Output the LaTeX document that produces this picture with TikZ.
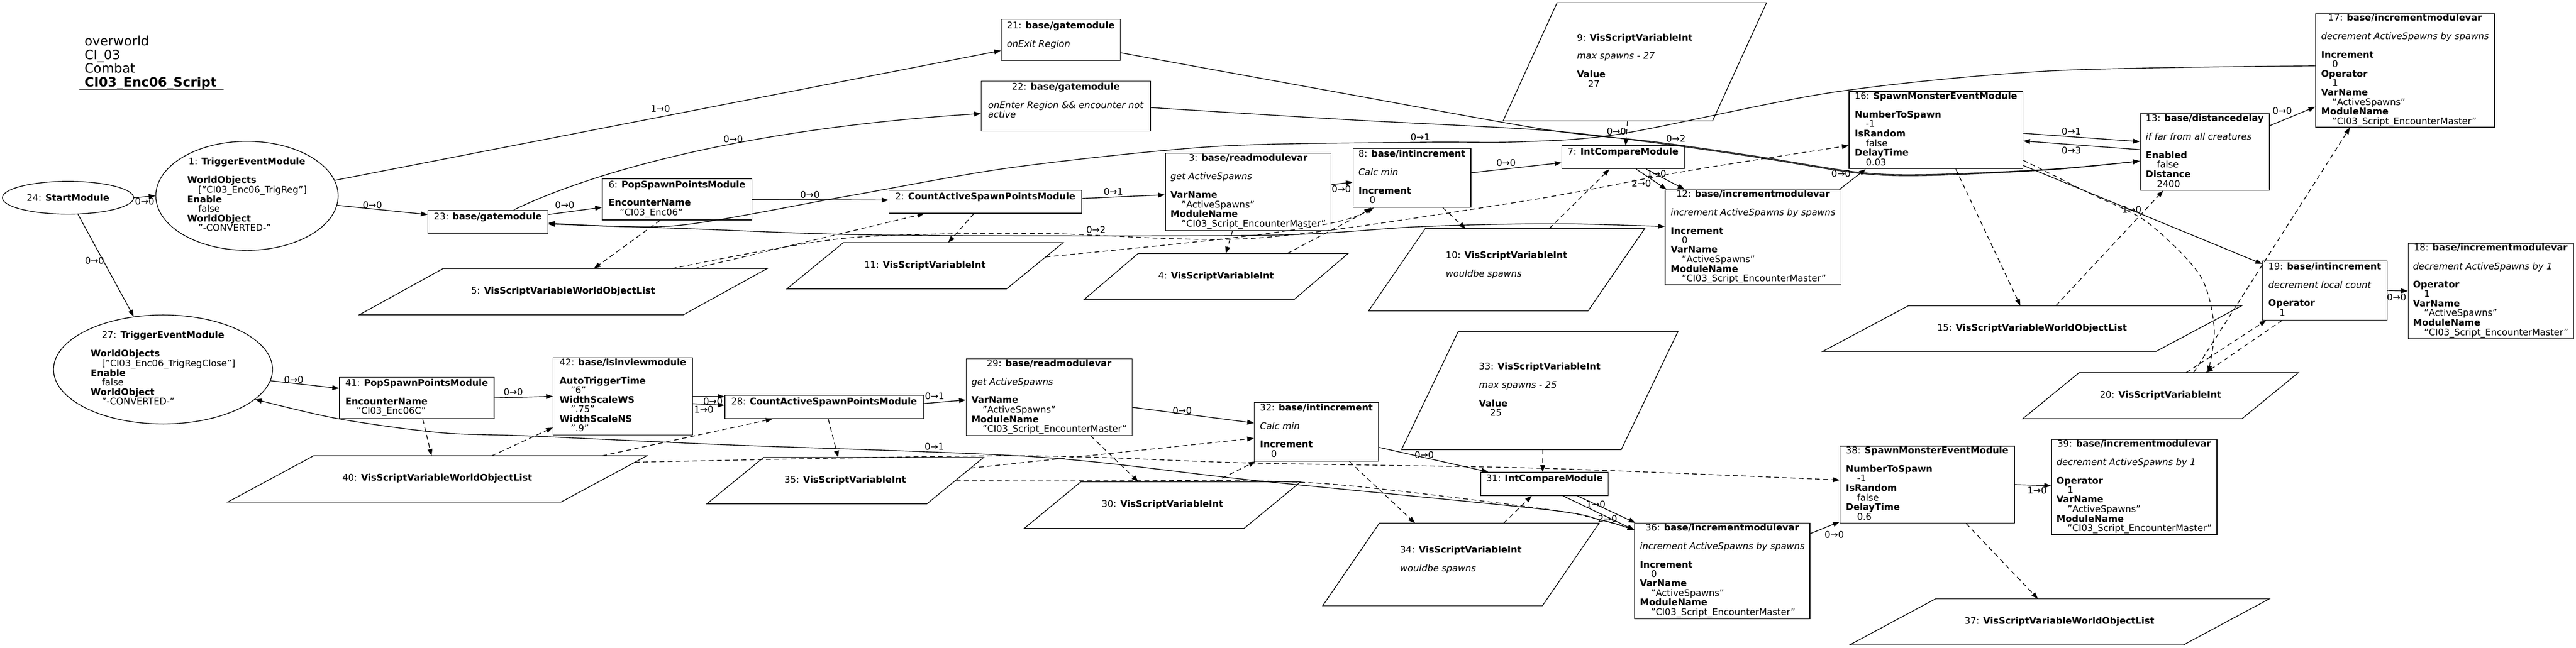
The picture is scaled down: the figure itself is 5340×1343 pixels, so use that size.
\documentclass[tikz,border=0pt]{standalone}
\usepackage{fontspec}
\setmainfont{DejaVu Sans}
\usepackage{tikz}
\usetikzlibrary{arrows.meta,calc,shapes.geometric}
\tikzset{>={Triangle[length=0.28cm,width=0.2cm]}}
\newcommand{\nodefont}{\fontsize{10.8pt}{10.53pt}\selectfont}
\newcommand{\headfont}{\fontsize{15.25pt}{15.25pt}\selectfont}
\newcommand{\modtext}[1]{\begin{tabular}{@{}l@{}}#1\end{tabular}}
\newcommand{\mtitle}[2]{\multicolumn{1}{@{}c@{}}{#1: \textbf{#2}}}
\newcommand{\attr}[2]{\textbf{#1}\\\hspace*{0.46cm}#2}
\newcommand{\cmt}[1]{\textit{#1}}
\tikzset{
  module/.style 2 args={draw, rectangle, line width=0.03cm, inner sep=0pt, minimum width={#1*0.02cm}, minimum height={#2*0.02cm}, font=\nodefont},
  trigger/.style 2 args={draw, ellipse, line width=0.03cm, inner sep=0pt, minimum width={#1*0.02cm}, minimum height={#2*0.02cm}, font=\nodefont},
  varnode/.style={inner sep=0pt, outer sep=0pt, font=\nodefont},
  flow/.style={->, line width=0.03cm},
  uses/.style={->, line width=0.03cm, dash pattern=on 0.2cm off 0.14cm},
  lab/.style={inner sep=0pt, font=\nodefont}
}
\newcommand{\varbox}[6]{%
  \node[varnode, minimum width={#4*0.02cm}, minimum height={#5*0.02cm}] (#1) at (#2,#3) {#6};
  \coordinate (#1-tl) at ($(#1.north west)+({0.205*#4},0)$);
  \coordinate (#1-br) at ($(#1.south east)-({0.205*#4},0)$);
  \draw[line width=0.03cm] (#1-tl) -- (#1.north east) -- (#1-br) -- (#1.south west) -- cycle;
}

\begin{document}
\begin{tikzpicture}[x=0.02cm, y=-0.02cm]
\useasboundingbox (0,0) rectangle (5340,1343);

\node[anchor=north west, inner sep=0pt, font=\headfont] (title) at (175,74.2) {\begin{tabular}{@{}l@{}}overworld\\CI\_03\\Combat\\\textbf{CI03\_Enc06\_Script}\end{tabular}};
\draw[line width=0.03cm] (165,185.6) -- (463,185.6);

\node[trigger={272}{68}] (n24) at (141,410) {24: \textbf{StartModule}};
\node[trigger={378}{226}] (n1) at (512,406) {\modtext{\mtitle{1}{TriggerEventModule}\\ \\ \attr{WorldObjects}{["CI03\_Enc06\_TrigReg"]}\\ \attr{Enable}{false}\\ \attr{WorldObject}{"-CONVERTED-"}}};
\node[trigger={454}{226}] (n27) at (338,766) {\modtext{\mtitle{27}{TriggerEventModule}\\ \\ \attr{WorldObjects}{["CI03\_Enc06\_TrigRegClose"]}\\ \attr{Enable}{false}\\ \attr{WorldObject}{"-CONVERTED-"}}};

\node[module={246.8}{85.5}] (n21) at (2199,83) {\modtext{\mtitle{21}{base/gatemodule}\\ \\ \cmt{onExit Region}\\ \mbox{}}};
\node[module={351}{104}] (n22) at (2209.5,220) {\modtext{\mtitle{22}{base/gatemodule}\\ \\ \cmt{onEnter Region \&\& encounter not}\\ \cmt{active}\\ \mbox{}}};
\node[module={248.6}{48.4}] (n23) at (1011.3,460.2) {\modtext{\mtitle{23}{base/gatemodule}\\ \mbox{}}};
\node[module={310}{85.4}] (n6) at (1403.5,413.5) {\modtext{\mtitle{6}{PopSpawnPointsModule}\\ \\ \attr{EncounterName}{"CI03\_Enc06"}}};
\node[module={399.7}{47.7}] (n2) at (2042.5,418.5) {\modtext{\mtitle{2}{CountActiveSpawnPointsModule}\\ \mbox{}}};
\node[module={343.7}{160}] (n3) at (2587.5,397.9) {\modtext{\mtitle{3}{base/readmodulevar}\\ \\ \cmt{get ActiveSpawns}\\ \\ \attr{VarName}{"ActiveSpawns"}\\ \attr{ModuleName}{"CI03\_Script\_EncounterMaster"}}};
\node[module={244}{122}] (n8) at (2927,369) {\modtext{\mtitle{8}{base/intincrement}\\ \\ \cmt{Calc min}\\ \\ \attr{Increment}{0}}};
\node[module={253.9}{47.5}] (n7) at (3364.6,326.2) {\modtext{\mtitle{7}{IntCompareModule}\\ \mbox{}}};
\node[module={364.8}{197.3}] (n12) at (3634,492) {\modtext{\mtitle{12}{base/incrementmodulevar}\\ \\ \cmt{increment ActiveSpawns by spawns}\\ \\ \attr{Increment}{0}\\ \attr{VarName}{"ActiveSpawns"}\\ \attr{ModuleName}{"CI03\_Script\_EncounterMaster"}}};
\node[module={360.4}{160}] (n16) at (4013.2,270) {\modtext{\mtitle{16}{SpawnMonsterEventModule}\\ \\ \attr{NumberToSpawn}{-1}\\ \attr{IsRandom}{false}\\ \attr{DelayTime}{0.03}}};
\node[module={268}{159}] (n13) at (4570.4,315) {\modtext{\mtitle{13}{base/distancedelay}\\ \\ \cmt{if far from all creatures}\\ \\ \attr{Enabled}{false}\\ \attr{Distance}{2400}}};
\node[module={371}{234.7}] (n17) at (4985.5,146.3) {\modtext{\mtitle{17}{base/incrementmodulevar}\\ \\ \cmt{decrement ActiveSpawns by spawns}\\ \\ \attr{Increment}{0}\\ \attr{Operator}{1}\\ \attr{VarName}{"ActiveSpawns"}\\ \attr{ModuleName}{"CI03\_Script\_EncounterMaster"}}};
\node[module={258.5}{122.3}] (n19) at (4819.2,602.3) {\modtext{\mtitle{19}{base/intincrement}\\ \\ \cmt{decrement local count}\\ \\ \attr{Operator}{1}}};
\node[module={342.4}{198}] (n18) at (5163.2,603.3) {\modtext{\mtitle{18}{base/incrementmodulevar}\\ \\ \cmt{decrement ActiveSpawns by 1}\\ \\ \attr{Operator}{1}\\ \attr{VarName}{"ActiveSpawns"}\\ \attr{ModuleName}{"CI03\_Script\_EncounterMaster"}}};

\node[module={320.4}{86}] (n41) at (863.8,825) {\modtext{\mtitle{41}{PopSpawnPointsModule}\\ \\ \attr{EncounterName}{"CI03\_Enc06C"}}};
\node[module={289}{159.8}] (n42) at (1291.3,821.8) {\modtext{\mtitle{42}{base/isinviewmodule}\\ \\ \attr{AutoTriggerTime}{"6"}\\ \attr{WidthScaleWS}{".75"}\\ \attr{WidthScaleNS}{".9"}}};
\node[module={411.8}{47.9}] (n28) at (1708.4,843.9) {\modtext{\mtitle{28}{CountActiveSpawnPointsModule}\\ \mbox{}}};
\node[module={344.3}{159.4}] (n29) at (2174.9,823.3) {\modtext{\mtitle{29}{base/readmodulevar}\\ \\ \cmt{get ActiveSpawns}\\ \\ \attr{VarName}{"ActiveSpawns"}\\ \attr{ModuleName}{"CI03\_Script\_EncounterMaster"}}};
\node[module={257.4}{122}] (n32) at (2728.9,895.2) {\modtext{\mtitle{32}{base/intincrement}\\ \\ \cmt{Calc min}\\ \\ \attr{Increment}{0}}};
\node[module={264.3}{47.9}] (n31) at (3201.7,1003.3) {\modtext{\mtitle{31}{IntCompareModule}\\ \mbox{}}};
\node[module={363.4}{198.2}] (n36) at (3570.2,1183.8) {\modtext{\mtitle{36}{base/incrementmodulevar}\\ \\ \cmt{increment ActiveSpawns by spawns}\\ \\ \attr{Increment}{0}\\ \attr{VarName}{"ActiveSpawns"}\\ \attr{ModuleName}{"CI03\_Script\_EncounterMaster"}}};
\node[module={361.3}{159.9}] (n38) at (3995,1004.8) {\modtext{\mtitle{38}{SpawnMonsterEventModule}\\ \\ \attr{NumberToSpawn}{-1}\\ \attr{IsRandom}{false}\\ \attr{DelayTime}{0.6}}};
\node[module={343.1}{197.3}] (n39) at (4424.2,1010) {\modtext{\mtitle{39}{base/incrementmodulevar}\\ \\ \cmt{decrement ActiveSpawns by 1}\\ \\ \attr{Operator}{1}\\ \attr{VarName}{"ActiveSpawns"}\\ \attr{ModuleName}{"CI03\_Script\_EncounterMaster"}}};

\varbox{v5}{1167.5}{604.8}{845}{95.6}{\modtext{\mtitle{5}{VisScriptVariableWorldObjectList}}}
\varbox{v11}{1917.5}{551}{573}{96}{\modtext{\mtitle{11}{VisScriptVariableInt}}}
\varbox{v4}{2520.75}{573.5}{547.5}{95.8}{\modtext{\mtitle{4}{VisScriptVariableInt}}}
\varbox{v10}{3123.2}{559.3}{572.4}{170.6}{\modtext{\mtitle{10}{VisScriptVariableInt}\\ \\ \cmt{wouldbe spawns}\\ \mbox{}}}
\varbox{v9}{3388.9}{128.2}{546.2}{245.1}{\modtext{\mtitle{9}{VisScriptVariableInt}\\ \\ \cmt{max spawns - 27}\\ \\ \attr{Value}{27}}}
\varbox{v15}{4212.4}{681.4}{869}{95}{\modtext{\mtitle{15}{VisScriptVariableWorldObjectList}}}
\varbox{v20}{4478.9}{820.3}{571.7}{95.8}{\modtext{\mtitle{20}{VisScriptVariableInt}}}
\varbox{v40}{906.5}{993}{869}{96}{\modtext{\mtitle{40}{VisScriptVariableWorldObjectList}}}
\varbox{v35}{1752.2}{996.5}{573.8}{96.2}{\modtext{\mtitle{35}{VisScriptVariableInt}}}
\varbox{v30}{2409.7}{1047.3}{573.2}{96.7}{\modtext{\mtitle{30}{VisScriptVariableInt}}}
\varbox{v33}{3191.8}{809.8}{573}{244.8}{\modtext{\mtitle{33}{VisScriptVariableInt}\\ \\ \cmt{max spawns - 25}\\ \\ \attr{Value}{25}}}
\varbox{v34}{3028.4}{1170.3}{573}{171.2}{\modtext{\mtitle{34}{VisScriptVariableInt}\\ \\ \cmt{wouldbe spawns}\\ \mbox{}}}
\varbox{v37}{4269.2}{1289.4}{870.4}{95.8}{\modtext{\mtitle{37}{VisScriptVariableWorldObjectList}}}

\coordinate (v11-out) at ($(v11.north east)!0.31!(v11-br)$);
\coordinate (v35-out) at ($(v35.north east)!0.23!(v35-br)$);
\coordinate (v35-low) at ($(v35.north east)!0.49!(v35-br)$);
\coordinate (v40-out) at ($(v40.north east)!0.14!(v40-br)$);

\draw[flow] (n24.east) -- (n1.west) node[lab] (l1) at (300,418) {0→0};
\draw[flow] (n24.-59.9) -- (n27.119.2) node[lab] (l2) at (196,540) {0→0};
\draw[flow] (n1.-6.4) -- (n23.173.9) node[lab] (l3) at (772,425) {0→0};
\draw[flow] (n1.10.6) -- (n21.190.6) node[lab] (l4) at (1369,225.5) {1→0};
\draw[flow] (n23.25.5) .. controls (1200,370) and (1500,270) .. (n22.185.2) node[lab] (l5) at (1520,288) {0→0};
\draw[flow] (n23.7.0) -- (n6.186.6) node[lab] (l6) at (1170.7,425) {0→0};
\draw[flow] (n6.-0.7) -- (n2.179.6) node[lab] (l7) at (1679,404) {0→0};
\draw[flow] (n2.2.1) -- (n3.182.5) node[lab] (l8) at (2308,397) {0→1};
\draw[flow] (n3.5.0) -- (n8.184.5) node[lab] (l9) at (2780.5,392) {0→0};
\draw[flow] (n8.5.6) -- (n7.185.8) node[lab] (l10) at (3122,338) {0→0};
\draw[flow] (n7.-27.1) -- (n12.145.4) node[lab] (l11) at (3434,360) {1→0};
\draw[flow] (n7.-42.1) -- (n12.151.5) node[lab] (l12) at (3402.5,380.7) {2→0};
\draw[flow] (n12.29.9) -- (n16.209.6) node[lab] (l13) at (3816.4,360) {0→0};
\draw[flow] (n16.-2.1) -- (n13.171.9) node[lab] (l14) at (4293.8,272) {0→1};
\draw[flow] (n13.178.3) -- (n16.-7.5) node[lab] (l15) at (4293.8,311.4) {0→3};
\draw[flow] (n16.-22.4) -- (n19.157.6) node[lab] (l16) at (4419,435) {1→0};
\draw[flow] (n13.22.3) -- (n17.202.7) node[lab] (l17) at (4731,230) {0→0};
\draw[flow] (n19.0) -- (n18.180) node[lab] (l18) at (4968,615.8) {0→0};
\draw[flow] plot[smooth] coordinates {(n17.177.9) (4250,147) (3802,191) (3360,277.5) (3150,294) (2942,295) (2521,303.5) (2100,347) (1751.5,407.6) (1400,468) (n23.-1.3)};
\node[lab] (l19) at (2944,284) {0→1};
\draw[flow, <->] plot[smooth] coordinates {(n12.173.3) (3200,464) (2942,470) (2661,487) (2150,489) (1751,486) (1422,474) (n23.-2.7)};
\node[lab] (l20) at (2272,476) {0→2};
\draw[flow] plot[smooth] coordinates {(n21.-12.4) (2760,189) (3200,268) (3430,294) (3641,324) (3851,357) (3992,362) (4250,351) (n13.188.1)};
\node[lab] (l21) at (3474,287) {0→2};
\draw[flow] plot[smooth] coordinates {(n22.-1.8) (2792,248) (3200,270) (3430,296) (3641,326) (3851,359) (3992,364) (4250,352) (n13.188.1)};
\node[lab] (l22) at (3351,272) {0→0};

\draw[flow] (n27.-6.4) -- (n41.173.2) node[lab] (l23) at (609,787.6) {0→0};
\draw[flow] (n41.0.4) -- (n42.180.9) node[lab] (l24) at (1064,812.5) {0→0};
\draw[flow] (n42.0) -- (n28.174.3) node[lab] (l25) at (1478,832) {0→0};
\draw[flow] (n42.-6.6) -- (n28.179.5) node[lab] (l26) at (1459,849.5) {1→0};
\draw[flow] (n28.2.7) -- (n29.182.6) node[lab] (l27) at (1937.4,821) {0→1};
\draw[flow] (n29.-7.6) -- (n32.172.8) node[lab] (l28) at (2450.8,851) {0→0};
\draw[flow] (n32.-14.3) -- (n31.168.0) node[lab] (l29) at (2952.3,943) {0→0};
\draw[flow] (n31.-20.5) -- (n36.151.4) node[lab] (l30) at (3308,1045.5) {1→0};
\draw[flow] (n31.-33.6) -- (n36.155.8) node[lab] (l31) at (3332.4,1076) {2→0};
\draw[flow] (n36.23.0) -- (n38.203.0) node[lab] (l32) at (3802.4,1108.6) {0→0};
\draw[flow] (n38.-0.9) -- (n39.179.5) node[lab] (l33) at (4223,1017) {1→0};
\draw[flow, <->] plot[smooth] coordinates {(n36.155.8) (3318,1078) (3200,1056) (2600,996) (2150,947.5) (1500,922) (1100,904) (912,897) (700,868) (n27.-18.8)};
\node[lab] (l34) at (1937,926) {0→1};

\draw[uses] (n6.231.4) -- (v5.37.9);
\draw[uses] (v5.10.9) -- (n2.191.9);
\draw[uses] plot[smooth] coordinates {(v5.12.7) (1751,494) (2150,484) (2600,494) (3150,418.5) (3500,354) (n16.190.5)};
\draw[uses] (n2.226.6) -- (v11.45);
\draw[uses] (v11-out) .. controls (2500,500) and (2780,475) .. (n8.216.2);
\draw[uses] (n3.248.5) -- (v4.67.6);
\draw[uses] (v4.18.0) -- (n8.218.4);
\draw[uses] (n8.-44.1) -- (v10.135.7);
\draw[uses] (v10.44.1) -- (n7.221.5);
\draw[uses] (v9.263.3) -- (n7.78.1);
\draw[uses] (n16.-63.7) -- (v15.117.6);
\draw[uses] (v15.44.6) -- (n13.223.2);
\draw[uses] plot[smooth] coordinates {(n16.-19.9) (4330,400) (4450,460) (4560,570) (4590,680) (v20.26.5)};
\draw[uses] (v20.35.9) -- (n17.226.7);
\draw[uses] (v20.42.6) -- (n19.207.1);
\draw[uses] (n19.215.9) -- (v20.27.7);

\draw[uses] (n41.-74.8) -- (v40.104.6);
\draw[uses] (v40.23.5) -- (n42.204.1);
\draw[uses] (v40.8.6) -- (n28.193.8);
\draw[uses] plot[smooth] coordinates {(v40-out) (2100,945) (2591,960) (3200,971) (n38.177.0)};
\draw[uses] (n28.-71.5) -- (v35.107);
\draw[uses] (v35-out) -- (n32.186.1);
\draw[uses] plot[smooth] coordinates {(v35-low) (2400,996) (2750,1003) (3200,1055) (3318,1078) (n36.155.8)};
\draw[uses] (n29.-43.1) -- (v30.136.8);
\draw[uses] (v30.24.9) -- (n32.206);
\draw[uses] (n32.-42.9) -- (v34.138.0);
\draw[uses] (v34.44.1) -- (n31.223.8);
\draw[uses] (v33.-87.2) -- (n31.99.5);
\draw[uses] (n38.-45.9) -- (v37.133.8);
\end{tikzpicture}
\end{document}
